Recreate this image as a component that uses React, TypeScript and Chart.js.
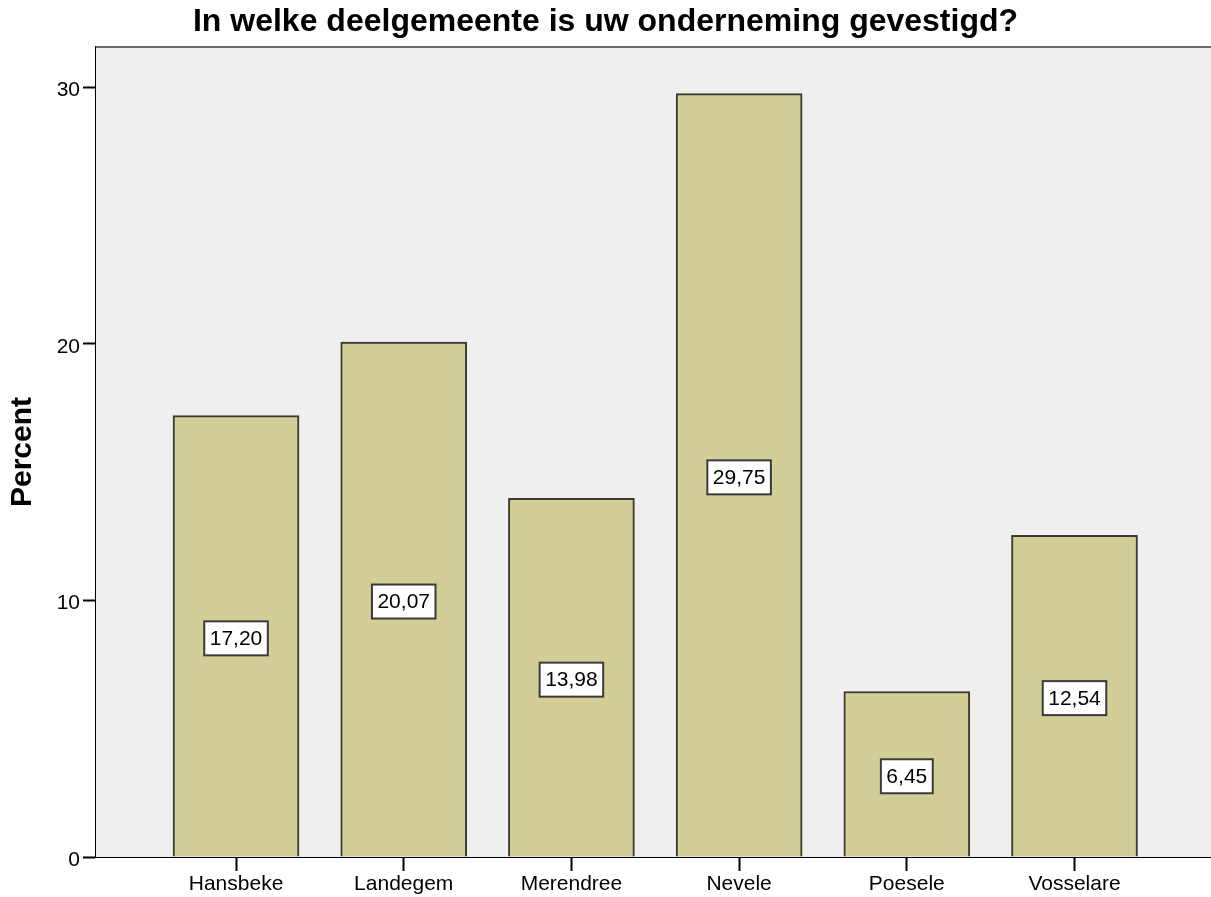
import React, { useEffect, useRef } from "react";
import { Chart, registerables } from "chart.js";

Chart.register(...registerables);

const categories = ["Hansbeke", "Landegem", "Merendree", "Nevele", "Poesele", "Vosselare"];
const percents = [17.2, 20.07, 13.98, 29.75, 6.45, 12.54];
const yTicks = [0, 10, 20, 30];
const titleText = "In welke deelgemeente is uw onderneming gevestigd?";
const yAxisTitle = "Percent";

const FONT = "'Liberation Sans', Arial, sans-serif";

const plotFramePlugin = {
  id: "plotFrame",
  beforeDatasetsDraw(chart: any) {
    const { ctx, chartArea } = chart;
    ctx.save();
    ctx.fillStyle = "#EFEFEF";
    ctx.fillRect(chartArea.left, chartArea.top, chartArea.right - chartArea.left, chartArea.bottom - chartArea.top);
    ctx.strokeStyle = "#6a6a6a";
    ctx.lineWidth = 2;
    ctx.beginPath();
    ctx.moveTo(chartArea.left, chartArea.top);
    ctx.lineTo(chartArea.right, chartArea.top);
    ctx.stroke();
    ctx.restore();
  },
};

const valueLabelPlugin = {
  id: "valueLabels",
  afterDatasetsDraw(chart: any) {
    const { ctx } = chart;
    const yScale = chart.scales.y;
    const meta = chart.getDatasetMeta(0);
    ctx.save();
    ctx.font = `21px ${FONT}`;
    ctx.textAlign = "center";
    ctx.textBaseline = "middle";
    meta.data.forEach((bar: any, i: number) => {
      const v = percents[i];
      const text = v.toFixed(2).replace(".", ",");
      const cx = bar.x;
      const cy = yScale.getPixelForValue(v / 2) + 2;
      const w = ctx.measureText(text).width + 11;
      const h = 34;
      ctx.fillStyle = "#ffffff";
      ctx.fillRect(cx - w / 2, cy - h / 2, w, h);
      ctx.strokeStyle = "#3a3a3a";
      ctx.lineWidth = 2;
      ctx.strokeRect(cx - w / 2, cy - h / 2, w, h);
      ctx.fillStyle = "#000000";
      ctx.fillText(text, cx, cy + 1);
    });
    ctx.restore();
  },
};

export default function App() {
  const canvasRef = useRef<HTMLCanvasElement | null>(null);

  useEffect(() => {
    if (!canvasRef.current) return;
    Chart.defaults.font.family = FONT;
    const chart = new Chart(canvasRef.current, {
      type: "bar",
      data: {
        datasets: [
          {
            data: percents.map((v, i) => ({ x: i, y: v })),
            backgroundColor: "#D3CE97",
            borderColor: "#3a3a30",
            borderWidth: 2,
            barThickness: 126,
          } as any,
        ],
      },
      options: {
        responsive: false,
        animation: false,
        layout: { padding: { left: 0, right: 0, top: 0, bottom: 0 } },
        plugins: {
          legend: { display: false },
          tooltip: { enabled: false },
          title: {
            display: true,
            text: titleText,
            color: "#000",
            font: { size: 32, weight: "bold", family: FONT },
            padding: { top: 3, bottom: 5.6 },
          },
        },
        scales: {
          x: {
            type: "linear",
            offset: false,
            min: -0.835,
            max: 5.814,
            afterBuildTicks: (scale: any) => {
              scale.ticks = categories.map((_, i) => ({ value: i }));
            },
            afterFit: (scale: any) => {
              scale.height = 40;
            },
            grid: {
              offset: false,
              drawOnChartArea: false,
              drawTicks: true,
              tickLength: 14,
              tickColor: "#000",
              tickWidth: 2,
            },
            border: { display: true, color: "#000", width: 2 },
            ticks: {
              color: "#000",
              font: { size: 21, family: FONT },
              padding: 1,
              maxRotation: 0,
              autoSkip: false,
              callback: (value: any) => categories[Number(value)] ?? "",
            },
          },
          y: {
            type: "linear",
            min: 0,
            max: 31.57,
            afterBuildTicks: (scale: any) => {
              scale.ticks = yTicks.map((v) => ({ value: v }));
            },
            afterFit: (scale: any) => {
              scale.width = 96;
            },
            grid: {
              drawOnChartArea: false,
              drawTicks: true,
              tickLength: 13,
              tickColor: "#000",
              tickWidth: 2,
            },
            border: { display: true, color: "#000", width: 2 },
            ticks: {
              color: "#000",
              font: { size: 21, family: FONT },
              padding: 3,
              labelOffset: 3,
            },
            title: {
              display: true,
              text: yAxisTitle,
              color: "#000",
              font: { size: 30, weight: "bold", family: FONT },
              padding: { top: 5, bottom: 0 },
            },
          },
        },
      } as any,
      plugins: [plotFramePlugin, valueLabelPlugin],
    });
    return () => chart.destroy();
  }, []);

  return (
    <div style={{ position: "fixed", left: 0, top: 0, width: 1211, height: 897, background: "#fff" }}>
      <canvas ref={canvasRef} width={1211} height={897} style={{ display: "block" }} />
    </div>
  );
}
